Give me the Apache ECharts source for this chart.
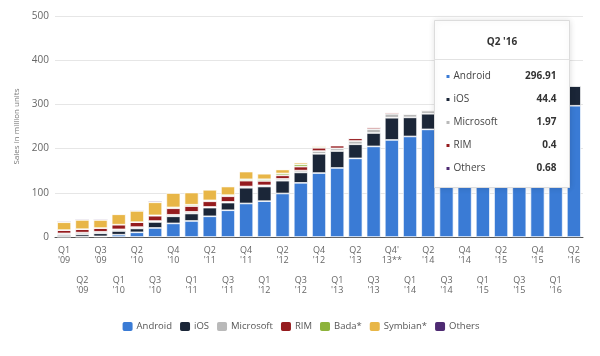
<!DOCTYPE html>
<html>
<head>
<meta charset="utf-8">
<script src="https://cdn.jsdelivr.net/npm/echarts@6/dist/echarts.min.js"></script>
<style>html,body{margin:0;padding:0;background:#fff}#c{width:600px;height:356px}</style>
</head>
<body>
<div id="c"></div>
<script>
var categories = ["Q1 '09","Q2 '09","Q3 '09","Q1 '10","Q2 '10","Q3 '10","Q4 '10","Q1 '11","Q2 '11","Q3 '11","Q4 '11","Q1 '12","Q2 '12","Q3 '12","Q4 '12","Q1 '13","Q2 '13","Q3 '13","Q4' 13**","Q1 '14","Q2 '14","Q3 '14","Q4 '14","Q1 '15","Q2 '15","Q3 '15","Q4 '15","Q1 '16","Q2 '16"];
var android   = [0.6, 0.8, 1.4, 5.2, 10.6, 20.5, 30.8, 36.3, 46.8, 60.5, 75.9, 81.1, 98.5, 122.5, 144.7, 156.2, 177.9, 205.0, 219.6, 227.5, 243.5, 250.1, 279.1, 265.0, 271.0, 298.8, 325.4, 293.8, 296.91];
var ios       = [3.8, 5.3, 7.0, 8.4, 8.7, 13.5, 16.0, 16.9, 19.6, 17.3, 35.5, 33.1, 28.9, 23.6, 43.5, 38.3, 31.9, 30.3, 50.2, 43.1, 35.3, 38.2, 74.8, 60.2, 48.1, 46.0, 71.5, 51.6, 44.4];
var microsoft = [3.7, 3.8, 3.3, 3.7, 3.1, 2.2, 3.4, 3.7, 1.7, 1.7, 2.8, 2.7, 4.1, 4.1, 6.2, 6.0, 7.4, 8.9, 8.8, 7.4, 7.1, 9.0, 10.4, 8.3, 8.2, 5.9, 4.4, 2.4, 1.97];
var rim       = [7.5, 7.8, 8.5, 10.6, 11.2, 11.9, 14.8, 13.0, 12.7, 12.7, 13.2, 9.9, 8.0, 9.0, 7.3, 6.2, 6.2, 4.4, 4.0, 1.7, 2.0, 2.0, 1.7, 1.3, 1.2, 1.0, 0.9, 0.66, 0.4];
var bada      = [0, 0, 0, 0, 0, 0.9, 2.0, 3.1, 2.1, 2.5, 3.1, 3.8, 4.2, 5.1, 2.7, 1.4, 0.8, 0.6, 0, 0, 0, 0, 0, 0, 0, 0, 0, 0, 0];
var symbian   = [17.8, 20.9, 18.3, 23.5, 25.4, 29.5, 32.6, 27.6, 23.9, 19.5, 17.5, 12.5, 9.1, 4.4, 2.6, 1.3, 0.6, 0.5, 0, 0, 0, 0, 0, 0, 0, 0, 0, 0, 0];
var others    = [2.6, 2.6, 2.6, 1.5, 2.3, 3.0, 1.2, 0.5, 1.1, 1.5, 1.4, 1.3, 1.1, 0.9, 0.8, 0.7, 0.6, 0.8, 0.8, 1.4, 1.1, 1.3, 1.3, 1.3, 1.2, 1.1, 1.2, 0.94, 0.68];
var yTicks = [0, 100, 200, 300, 400, 500];

var colors = {
  'Android': '#3a7bd5', 'iOS': '#1b2638', 'Microsoft': '#b9b9b9', 'RIM': '#951b1e',
  'Bada*': '#8db33b', 'Symbian*': '#e8b647', 'Others': '#4e2a72'
};
var seriesData = [
  ['Android', android], ['iOS', ios], ['Microsoft', microsoft], ['RIM', rim],
  ['Bada*', bada], ['Symbian*', symbian], ['Others', others]
];

var chart = echarts.init(document.getElementById('c'), null, {renderer: 'canvas'});
var FONT = '"Open Sans", "Noto Sans", sans-serif';

var last = categories.length - 1;
var tipRows = [['Android', android], ['iOS', ios], ['Microsoft', microsoft], ['RIM', rim], ['Others', others]];
var TZ = 100;
var tipChildren = [
  {type: 'rect', z: TZ, shape: {x: 0, y: 0, width: 135, height: 167},
   style: {fill: '#fff', stroke: '#dcdcdc', lineWidth: 1, shadowBlur: 6, shadowColor: 'rgba(0,0,0,0.12)'}},
  {type: 'text', z: TZ + 1, x: 67.5, y: 22, style: {text: categories[last], font: 'bold 10px ' + FONT, fill: '#333', textAlign: 'center', textVerticalAlign: 'middle'}},
  {type: 'line', z: TZ + 1, shape: {x1: 0, y1: 39, x2: 135, y2: 39}, style: {stroke: '#e2e2e2', lineWidth: 1}}
];
tipRows.forEach(function (r, k) {
  var y = 56 + 23 * k;
  tipChildren.push({type: 'rect', z: TZ + 1, shape: {x: 12, y: y - 1.5, width: 3, height: 3}, style: {fill: colors[r[0]]}});
  tipChildren.push({type: 'text', z: TZ + 1, x: 19, y: y, style: {text: r[0], font: '10px ' + FONT, fill: '#444', textVerticalAlign: 'middle'}});
  tipChildren.push({type: 'text', z: TZ + 1, x: 122, y: y, style: {text: String(r[1][last]), font: 'bold 10px ' + FONT, fill: '#333', textAlign: 'right', textVerticalAlign: 'middle'}});
});

var option = {
  backgroundColor: '#fff',
  animation: false,
  textStyle: {fontFamily: FONT},
  grid: {left: 55, right: 17, top: 16, bottom: 119, containLabel: false},
  legend: {
    top: 315, left: 'center', icon: 'roundRect', itemWidth: 12, itemHeight: 11, itemGap: 6,
    textStyle: {fontSize: 9.5, color: '#555', fontFamily: FONT, padding: [0, 0, 0, -2]},
    data: seriesData.map(function (s) { return s[0]; })
  },
  xAxis: {
    type: 'category', data: categories,
    axisTick: {show: false},
    axisLine: {lineStyle: {color: '#555', width: 1}},
    axisLabel: {
      interval: 0, fontSize: 9, lineHeight: 10, color: '#666', margin: 8, fontFamily: FONT,
      formatter: function (v, i) { return (i % 2 ? '\n\n\n' : '') + v.split(' ').join('\n'); }
    }
  },
  yAxis: {
    type: 'value', min: yTicks[0], max: yTicks[yTicks.length - 1], interval: 100,
    name: 'Sales in million units', nameLocation: 'middle', nameGap: 28,
    nameTextStyle: {fontSize: 8, color: '#777', fontFamily: FONT},
    axisLine: {show: false}, axisTick: {show: false},
    axisLabel: {fontSize: 10, color: '#666', margin: 6, fontFamily: FONT},
    splitLine: {lineStyle: {color: '#e6e6e6', width: 1}}
  },
  series: seriesData.map(function (s) {
    return {
      name: s[0], type: 'bar', stack: 'total', barWidth: 14, data: s[1], z: 2,
      itemStyle: {color: colors[s[0]], borderColor: '#fff', borderWidth: 0.7}
    };
  }),
  graphic: {elements: [{type: 'group', left: 432, top: 20, z: TZ, children: tipChildren}]}
};
chart.setOption(option);
</script>
</body>
</html>
